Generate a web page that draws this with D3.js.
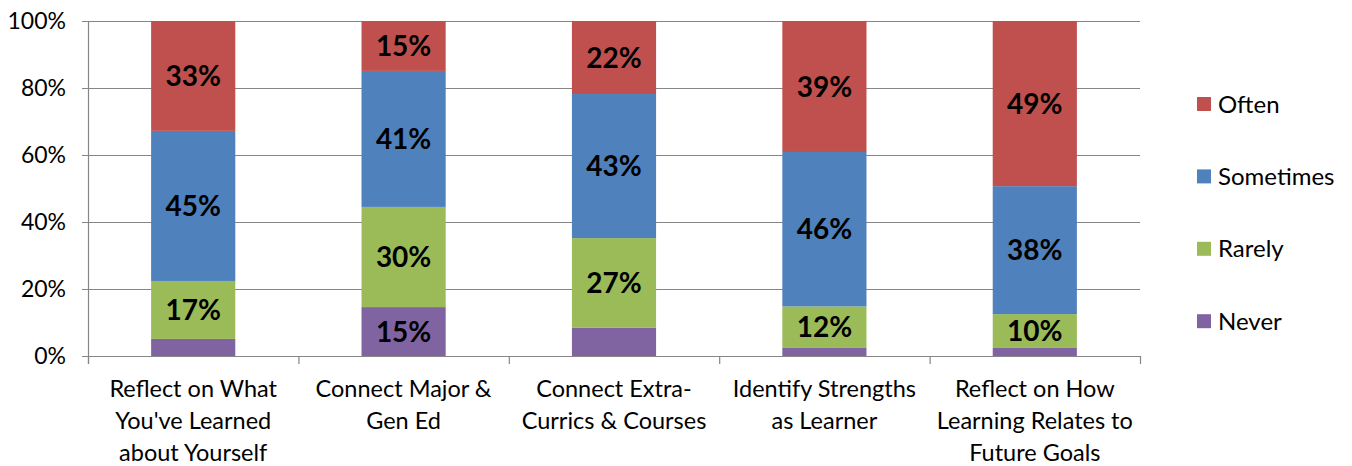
<!DOCTYPE html>
<html>
<head>
<meta charset="utf-8">
<script src="https://cdn.jsdelivr.net/npm/d3@7"></script>
<style>
    body { margin: 0; background: #fff; }
    svg { display: block; font-family: Lato, "Open Sans", sans-serif; }
</style>
</head>
<body>
<svg width="1352" height="466"></svg>
<script>
// categories, each split into its printed lines
var categories = [
    ["Reflect on What", "You've Learned", "about Yourself"],
    ["Connect Major &", "Gen Ed"],
    ["Connect Extra-", "Currics & Courses"],
    ["Identify Strengths", "as Learner"],
    ["Reflect on How", "Learning Relates to", "Future Goals"]
];
var seriesNames = ["Never", "Rarely", "Sometimes", "Often"];
var seriesColors = ["#8064A2", "#9BBB59", "#4F81BD", "#C0504D"];

// percent values
var never     = [5.1, 14.6, 8.4, 2.4, 2.4];
var rarely    = [17.3, 29.9, 26.8, 12.4, 10.1];
var sometimes = [44.8, 40.6, 43.0, 46.1, 38.2];
var often     = [32.8, 14.9, 21.8, 39.1, 49.3];

var yTicks = [0, 20, 40, 60, 80, 100];

window.onload = main;

function main() {
    var svg = d3.select("svg");
    var left = 88, right = 1140, top = 21, bottom = 356;

    var x = d3.scaleBand()
        .domain(d3.range(categories.length))
        .range([left, right])
        .paddingInner(0.6)
        .paddingOuter(0.3);
    var y = d3.scaleLinear().domain([0, 100]).range([bottom, top]);

    var rows = categories.map(function (c, i) {
        return { i: i, Never: never[i], Rarely: rarely[i], Sometimes: sometimes[i], Often: often[i] };
    });
    var stack = d3.stack().keys(seriesNames)(rows);

    // gridlines
    svg.append("g")
        .selectAll("line")
        .data(yTicks)
        .enter()
        .append("line")
        .attr("x1", left - 6)
        .attr("x2", right)
        .attr("y1", function (d) { return y(d) + 0.5; })
        .attr("y2", function (d) { return y(d) + 0.5; })
        .attr("stroke", "#868686")
        .attr("stroke-width", 1.2);

    // y labels
    svg.append("g")
        .selectAll("text")
        .data(yTicks)
        .enter()
        .append("text")
        .attr("x", left - 22)
        .attr("y", function (d) { return y(d); })
        .attr("dy", "0.36em")
        .attr("text-anchor", "end")
        .attr("font-size", 23)
        .attr("fill", "#000")
        .text(function (d) { return d + "%"; });

    // bars
    var layer = svg.append("g")
        .selectAll("g")
        .data(stack)
        .enter()
        .append("g")
        .attr("fill", function (d, k) { return seriesColors[k]; });

    layer.selectAll("rect")
        .data(function (d) { return d; })
        .enter()
        .append("rect")
        .attr("x", function (d) { return x(d.data.i); })
        .attr("width", x.bandwidth())
        .attr("y", function (d) { return y(d[1]); })
        .attr("height", function (d) { return y(d[0]) - y(d[1]); });

    // value labels (small segments are not labelled)
    layer.selectAll("text")
        .data(function (d) { return d; })
        .enter()
        .filter(function (d) { return d[1] - d[0] >= 9.5; })
        .append("text")
        .attr("x", function (d) { return x(d.data.i) + x.bandwidth() / 2; })
        .attr("y", function (d) { return y((d[0] + d[1]) / 2); })
        .attr("dy", "0.36em")
        .attr("text-anchor", "middle")
        .attr("font-size", 28)
        .attr("font-weight", "bold")
        .attr("fill", "#000")
        .text(function (d) { return Math.round(d[1] - d[0]) + "%"; });

    // axes lines
    svg.append("line")
        .attr("x1", left + 0.5).attr("x2", left + 0.5)
        .attr("y1", top).attr("y2", bottom + 8)
        .attr("stroke", "#868686").attr("stroke-width", 1.2);

    var step = (right - left) / categories.length;
    svg.append("g")
        .selectAll("line")
        .data(d3.range(categories.length + 1))
        .enter()
        .append("line")
        .attr("x1", function (d) { return left + d * step + 0.5; })
        .attr("x2", function (d) { return left + d * step + 0.5; })
        .attr("y1", bottom)
        .attr("y2", bottom + 8)
        .attr("stroke", "#868686")
        .attr("stroke-width", 1.2);

    // category labels
    svg.append("g")
        .selectAll("text")
        .data(categories)
        .enter()
        .append("text")
        .attr("text-anchor", "middle")
        .attr("font-size", 23.5)
        .attr("fill", "#000")
        .each(function (lines, i) {
            d3.select(this).selectAll("tspan")
                .data(lines)
                .enter()
                .append("tspan")
                .attr("x", left + step * (i + 0.5))
                .attr("y", function (d, j) { return 397 + j * 32; })
                .text(function (d) { return d; });
        });

    // legend, top item is Often
    var legend = svg.append("g")
        .selectAll("g")
        .data(seriesNames.slice().reverse())
        .enter()
        .append("g")
        .attr("transform", function (d, k) { return "translate(1197," + (104 + k * 72.4) + ")"; });
    legend.append("rect")
        .attr("x", 0).attr("y", -7)
        .attr("width", 14).attr("height", 14)
        .attr("fill", function (d) { return seriesColors[seriesNames.indexOf(d)]; });
    legend.append("text")
        .attr("x", 21)
        .attr("dy", "0.36em")
        .attr("font-size", 24)
        .attr("fill", "#000")
        .text(function (d) { return d; });
}
</script>
</body>
</html>
